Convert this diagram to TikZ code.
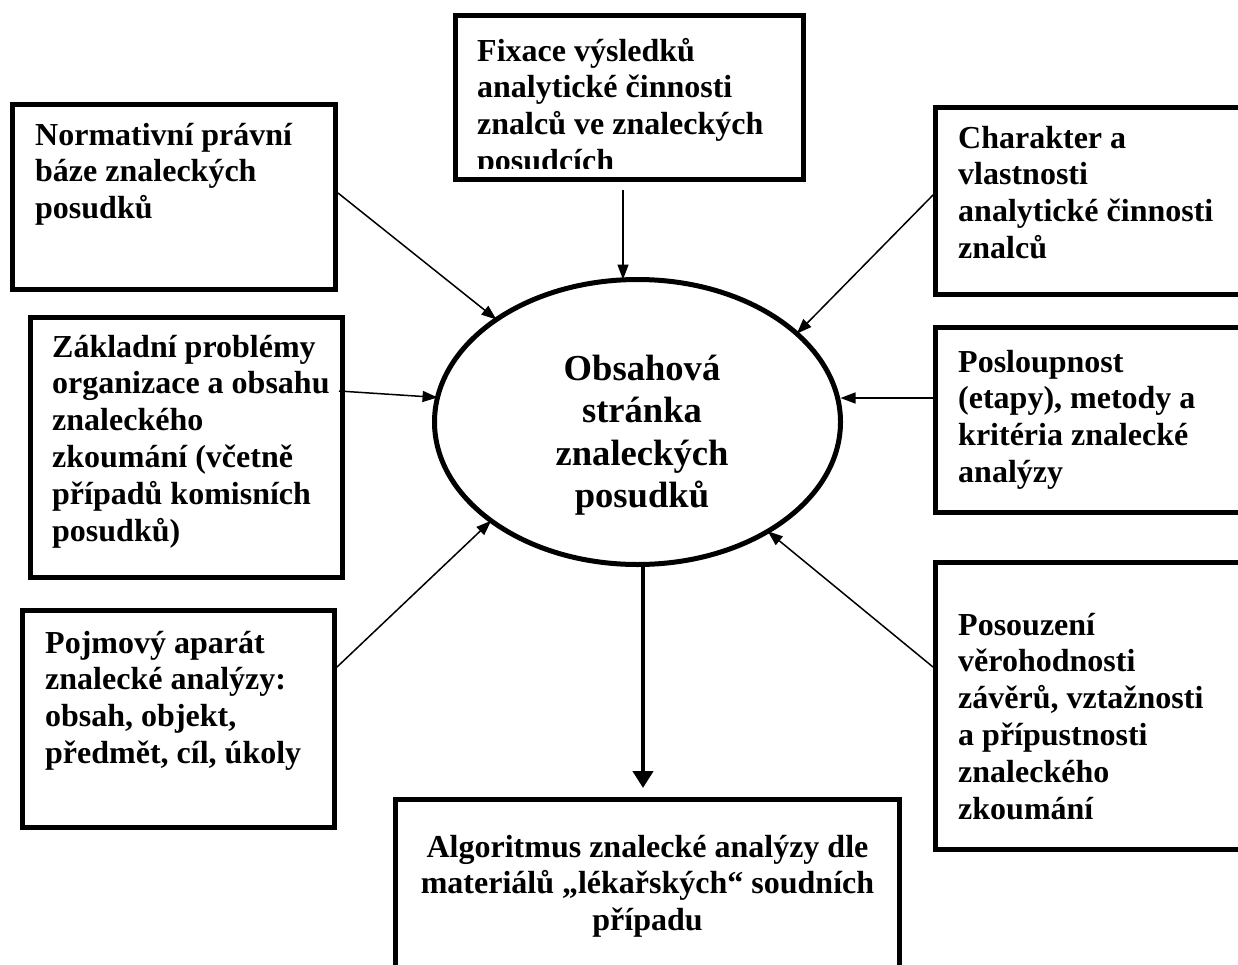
\documentclass[tikz,border=0pt]{standalone}
\usepackage{fontspec}
\setmainfont{Liberation Serif}
\usetikzlibrary{arrows.meta,shapes.geometric,calc}
\newcommand\LeftLines[1]{\vtop{\halign{##\hfil\cr#1\crcr}}}
\newcommand\MidLines[1]{\vtop{\halign{\hfil##\hfil\cr#1\crcr}}}
\tikzset{
  framebox/.style={draw, line width=5pt, rectangle, inner sep=0pt},
  txt/.style={inner sep=0pt, anchor=base west, font=\bfseries\fontsize{32}{36.8}\selectfont},
  ctxt/.style={inner sep=0pt, anchor=base, font=\bfseries\fontsize{32}{36.8}\selectfont},
  etxt/.style={inner sep=0pt, anchor=base, font=\bfseries\fontsize{36.6}{42.5}\selectfont},
  arrowthin/.style={line width=1.5pt, -{Triangle[length=15pt,width=11pt]}},
  arrowthick/.style={line width=4.5pt, -{Triangle[length=17pt,width=20pt]}},
}
\begin{document}
\begin{tikzpicture}[x=1pt,y=-1pt]
\path[use as bounding box, clip] (0,0) rectangle (1238,964);
% boxes
\node[framebox, minimum width=323pt, minimum height=185pt] (n1) at (174,197) {};
\node[framebox, minimum width=348pt, minimum height=164pt] (n2) at (629.5,97.5) {};
\node[framebox, minimum width=324.5pt, minimum height=187pt] (n3) at (1097.75,201) {};
\node[framebox, minimum width=312pt, minimum height=260pt] (n4) at (186.5,447.5) {};
\node[framebox, minimum width=324.5pt, minimum height=185pt] (n5) at (1097.75,420) {};
\node[framebox, minimum width=312pt, minimum height=217pt] (n6) at (178.5,719) {};
\node[framebox, minimum width=324.5pt, minimum height=287pt] (n7) at (1097.75,706) {};
\node[framebox, minimum width=504pt, minimum height=200.5pt] (n8) at (647.5,899.75) {};
% ellipse
\node[draw, ellipse, line width=5pt, minimum width=406pt, minimum height=285pt, inner sep=0pt, outer sep=0pt] (e) at (637.5,422) {};
% texts
\node[txt] (t1) at (35,145) {\LeftLines{Normativní právní\cr báze znaleckých\cr posudků}};
\begin{scope}
\clip (458,18) rectangle (801,168);
\node[txt] (t2) at (477,61) {\LeftLines{Fixace výsledků\cr analytické činnosti\cr znalců ve znaleckých\cr posudcích}};
\end{scope}
\node[txt] (t3) at (958,148) {\LeftLines{Charakter a\cr vlastnosti\cr analytické činnosti\cr znalců}};
\node[txt] (t4) at (52,357) {\LeftLines{Základní problémy\cr organizace a obsahu\cr znaleckého\cr zkoumání (včetně\cr případů komisních\cr posudků)}};
\node[txt] (t5) at (958,372) {\LeftLines{Posloupnost\cr (etapy), metody a\cr kritéria znalecké\cr analýzy}};
\node[txt] (t6) at (45,653) {\LeftLines{Pojmový aparát\cr znalecké analýzy:\cr obsah, objekt,\cr předmět, cíl, úkoly}};
\node[txt] (t7) at (958,635) {\LeftLines{Posouzení\cr věrohodnosti\cr závěrů, vztažnosti\cr a přípustnosti\cr znaleckého\cr zkoumání}};
\node[ctxt] (t8) at (647.5,857) {\MidLines{Algoritmus znalecké analýzy dle\cr materiálů „lékařských“ soudních\cr případu}};
\node[etxt] (te) at (642,380) {\MidLines{Obsahová\cr stránka\cr znaleckých\cr posudků}};
% connectors
\draw[arrowthin] ([yshift=4pt]n1.east) -- (e.144.8);
\draw[arrowthin] ([xshift=-6.5pt,yshift=-8pt]n2.south) -- ([xshift=-14.5pt]e.north);
\draw[arrowthin] ([yshift=6pt]n3.west) -- (e.29.5);
\draw[arrowthin] ([xshift=-6pt,yshift=56.5pt]n4.east) -- (e.173.4);
\draw[arrowthin] ([yshift=22pt]n5.west) -- ($(e.east |- n5.west)+(0,-22)$);
\draw[arrowthin] ([yshift=52pt]n6.east) -- (e.214.9);
\draw[arrowthin] ([yshift=39pt]n7.west) -- (e.320.9);
\draw[arrowthick] ([xshift=5.5pt]e.south) -- ([xshift=-4.5pt,yshift=9pt]n8.north);
\end{tikzpicture}
\end{document}
